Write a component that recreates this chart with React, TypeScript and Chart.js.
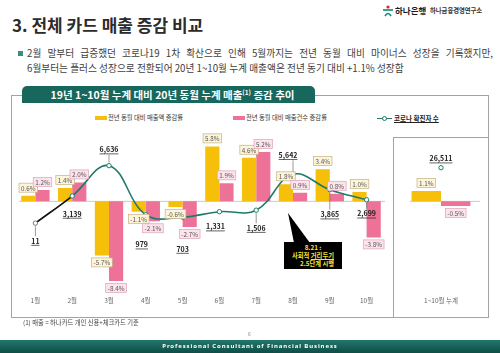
import React, { useEffect, useRef } from 'react';
import { Chart, registerables } from 'chart.js';

Chart.register(...registerables);

// ---------------- DATA ----------------
const months = ['1월', '2월', '3월', '4월', '5월', '6월', '7월', '8월', '9월', '10월'];
const salesGrowth = [0.6, 1.4, -5.7, -1.1, -0.6, 5.8, 4.6, 1.8, 3.4, 1.0];
const countGrowth = [1.2, 2.0, -8.4, -2.1, -2.7, 1.9, 5.2, 0.9, 0.8, -3.8];
const covidCases = [11, 3139, 6636, 979, 703, 1331, 1506, 5642, 3865, 2699];

const totalLabels = ['1~10월 누계'];
const totalSales = [1.1];
const totalCount = [-0.5];
const totalCovid = [26511];

// ---------------- STYLE ----------------
const FONT = '"Noto Sans CJK KR", "Noto Sans", sans-serif';
const YELLOW = '#F5BF0A';
const PINK = '#EE7198';
const TEAL = '#1F7A6A';
const HEADER = '#17675C';

// label placement (style only)
const covidLabelDy = [18, 18, -16, 30, 32, 15, 18, -19, 25, 14];
const covidLabelDx = [0, 0, 0, -4, 0, -4, 0, -5, 0, 0];
const covidLeader = [true, false, true, false, false, false, true, true, true, true];
const totalCovidDy = [-9];
const totalCovidDx = [0];
const totalCovidLeader = [false];

const boxStyles = [
  { fill: '#FDF4DA', stroke: '#C4B283', color: '#555' },
  { fill: '#FCE3EC', stroke: '#DDA3B7', color: '#555' },
];

Chart.defaults.font.family = FONT;

function drawBox(ctx: CanvasRenderingContext2D, text: string, cx: number, cy: number, st: any) {
  ctx.save();
  ctx.font = `6.3px ${FONT}`;
  const w = ctx.measureText(text).width + 4;
  const h = 9;
  ctx.fillStyle = st.fill;
  ctx.fillRect(cx - w / 2, cy - h / 2, w, h);
  ctx.strokeStyle = st.stroke;
  ctx.lineWidth = 0.7;
  ctx.strokeRect(cx - w / 2, cy - h / 2, w, h);
  ctx.fillStyle = st.color;
  ctx.textAlign = 'center';
  ctx.textBaseline = 'middle';
  ctx.fillText(text, cx, cy + 0.5);
  ctx.restore();
}

function makePlugin(o: { dy: number[]; dx: number[]; leader: boolean[]; zl: number; zr: number }) {
  return {
    id: 'customLabels',
    beforeDatasetsDraw(chart: any) {
      const ctx = chart.ctx;
      const y0 = chart.scales.y.getPixelForValue(0);
      ctx.save();
      ctx.strokeStyle = '#BDBDBD';
      ctx.lineWidth = 0.8;
      ctx.beginPath();
      ctx.moveTo(chart.chartArea.left + o.zl, y0);
      ctx.lineTo(chart.chartArea.right - o.zr, y0);
      ctx.stroke();
      ctx.restore();
    },
    afterDatasetsDraw(chart: any) {
      const ctx = chart.ctx;
      // bar labels
      [1, 2].forEach((di, k) => {
        const meta = chart.getDatasetMeta(di);
        const vals = chart.data.datasets[di].data as number[];
        meta.data.forEach((el: any, i: number) => {
          const v = vals[i];
          const cy = v >= 0 ? el.y - 8 : el.y + 7;
          drawBox(ctx, v.toFixed(1) + '%', el.x, cy, boxStyles[k]);
        });
      });
      // covid labels
      const lm = chart.getDatasetMeta(0);
      const lv = chart.data.datasets[0].data as number[];
      lm.data.forEach((el: any, i: number) => {
        const text = lv[i].toLocaleString('en-US');
        const x = el.x + o.dx[i];
        const y = el.y + o.dy[i];
        ctx.save();
        if (o.leader[i]) {
          ctx.strokeStyle = '#555';
          ctx.lineWidth = 0.6;
          ctx.beginPath();
          const sgn = o.dy[i] > 0 ? 1 : -1;
          ctx.moveTo(el.x, el.y + sgn * 3);
          ctx.lineTo(el.x, y - sgn * 5);
          ctx.stroke();
        }
        ctx.font = `bold 7px ${FONT}`;
        ctx.fillStyle = '#222';
        ctx.textAlign = 'center';
        ctx.textBaseline = 'middle';
        ctx.fillText(text, x, y);
        const w = ctx.measureText(text).width;
        ctx.strokeStyle = '#222';
        ctx.lineWidth = 0.7;
        ctx.beginPath();
        ctx.moveTo(x - w / 2, y + 4.2);
        ctx.lineTo(x + w / 2, y + 4.2);
        ctx.stroke();
        ctx.restore();
      });
    },
  };
}

function buildConfig(
  labels: string[],
  sales: number[],
  count: number[],
  covid: number[],
  catPct: number,
  y2min: number,
  y2max: number,
  pad: any,
  plugin: any
): any {
  return {
    type: 'bar',
    data: {
      labels,
      datasets: [
        {
          type: 'line',
          data: covid,
          yAxisID: 'y2',
          order: 0,
          borderColor: TEAL,
          borderWidth: 1.6,
          tension: 0.4,
          fill: false,
          pointRadius: 2.2,
          pointBackgroundColor: '#fff',
          pointBorderColor: covid.map((_, i) => (i === 0 && covid.length > 1 ? '#777' : TEAL)),
          pointBorderWidth: 1,
          segment: { borderColor: (c: any) => (c.p0DataIndex === 0 ? '#111' : TEAL) },
        },
        {
          data: sales,
          yAxisID: 'y',
          order: 1,
          backgroundColor: YELLOW,
          categoryPercentage: catPct,
          barPercentage: 1,
        },
        {
          data: count,
          yAxisID: 'y',
          order: 1,
          backgroundColor: PINK,
          categoryPercentage: catPct,
          barPercentage: 1,
        },
      ],
    },
    options: {
      animation: false,
      responsive: false,
      layout: { padding: pad },
      plugins: { legend: { display: false }, tooltip: { enabled: false } },
      scales: {
        x: {
          grid: { display: false, drawTicks: false },
          border: { display: false },
          ticks: { font: { size: 6.5, family: FONT }, color: '#666', padding: 10, autoSkip: false, maxRotation: 0 },
        },
        y: { display: false, min: -9, max: 7 },
        y2: { display: false, min: y2min, max: y2max, position: 'right' },
      },
    },
    plugins: [plugin],
  };
}

const abs = (s: React.CSSProperties): React.CSSProperties => ({ position: 'absolute', ...s });

export default function App() {
  const mainRef = useRef<HTMLCanvasElement>(null);
  const sideRef = useRef<HTMLCanvasElement>(null);

  useEffect(() => {
    const pad = { left: 4.45, right: 2.55, top: 10, bottom: 0.5 };
    const c1 = new Chart(
      mainRef.current as HTMLCanvasElement,
      buildConfig(months, salesGrowth, countGrowth, covidCases, 0.77, -7314, 10171, pad,
        makePlugin({ dy: covidLabelDy, dx: covidLabelDx, leader: covidLeader, zl: 2, zr: 0 }))
    );
    const c2 = new Chart(
      sideRef.current as HTMLCanvasElement,
      buildConfig(totalLabels, totalSales, totalCount, totalCovid, 0.7, 0, 33800,
        { left: 0, right: 0, top: 10, bottom: 0.5 },
        makePlugin({ dy: totalCovidDy, dx: totalCovidDx, leader: totalCovidLeader, zl: 11, zr: 3 }))
    );
    return () => {
      c1.destroy();
      c2.destroy();
    };
  }, []);

  return (
    <div
      style={{
        position: 'fixed',
        left: 0,
        top: 0,
        width: 500,
        height: 353,
        background: '#fff',
        overflow: 'hidden',
        fontFamily: FONT,
      }}
    >
      {/* logo */}
      <svg style={abs({ left: 382, top: 5, width: 12, height: 12 })} viewBox="0 0 12 12">
        <circle cx="6" cy="2" r="1.6" fill="#D9272E" />
        <rect x="1" y="4.2" width="10" height="1.6" fill="#0E8A6E" />
        <path d="M3 11 Q6 6 9 11" stroke="#0E8A6E" strokeWidth="1.6" fill="none" />
      </svg>
      <div style={abs({ left: 395, top: 5, fontSize: 8.5, lineHeight: '10px', fontWeight: 700, color: '#1d1d1d', whiteSpace: 'nowrap' })}>
        하나은행
      </div>
      <div style={abs({ left: 430, top: 7, fontSize: 6.3, lineHeight: '8px', fontWeight: 700, color: '#333', whiteSpace: 'nowrap' })}>
        하나금융경영연구소
      </div>

      {/* title */}
      <div style={abs({ left: 12, top: 16, fontSize: 17, lineHeight: '17px', fontWeight: 700, color: '#2b2b2b', whiteSpace: 'nowrap' })}>
        3. 전체 카드 매출 증감 비교
      </div>

      {/* bullet */}
      <div style={abs({ left: 18, top: 51, width: 5, height: 5, background: '#3C8F77' })} />
      <div
        style={abs({
          left: 27,
          top: 46,
          width: 466,
          fontSize: 9.7,
          lineHeight: '15px',
          color: '#404040',
          whiteSpace: 'nowrap',
          textAlign: 'justify',
          textAlignLast: 'justify',
        })}
      >
        2월 말부터 급증했던 코로나19 1차 확산으로 인해 5월까지는 전년 동월 대비 마이너스 성장을 기록했지만,
      </div>
      <div style={abs({ left: 27, top: 61, fontSize: 9.7, lineHeight: '15px', color: '#404040', whiteSpace: 'nowrap' })}>
        6월부터는 플러스 성장으로 전환되어 20년 1~10월 누계 매출액은 전년 동기 대비 +1.1% 성장함
      </div>

      {/* chart frame */}
      <div style={abs({ left: 11, top: 95, width: 476, height: 221, border: '1px solid #A3A3A3' })} />
      <div style={abs({ left: 393, top: 137, width: 95, height: 180, borderLeft: '1px solid #A3A3A3', borderTop: '1px solid #A3A3A3' })} />

      {/* header tab */}
      <div
        style={abs({
          left: 22,
          top: 86,
          width: 293,
          height: 17,
          background: HEADER,
          borderRadius: '5px 5px 0 0',
          color: '#fff',
          fontWeight: 700,
          fontSize: 10.5,
          lineHeight: '17px',
          textAlign: 'center',
          whiteSpace: 'nowrap',
          paddingLeft: 8,
          boxSizing: 'border-box',
        })}
      >
        19년 1~10월 누계 대비 20년 동월 누계 매출<sup style={{ fontSize: 6.5, lineHeight: 0 }}>(1)</sup> 증감 추이
      </div>

      {/* legend */}
      <div style={abs({ left: 95, top: 116, width: 12, height: 4, background: YELLOW })} />
      <div style={abs({ left: 108, top: 114, fontSize: 6.3, lineHeight: '8px', color: '#333', whiteSpace: 'nowrap' })}>
        전년 동월 대비 매출액 증감률
      </div>
      <div style={abs({ left: 233, top: 116, width: 12, height: 4, background: PINK })} />
      <div style={abs({ left: 246, top: 114, fontSize: 6.3, lineHeight: '8px', color: '#333', whiteSpace: 'nowrap' })}>
        전년 동월 대비 매출건수 증감률
      </div>
      <div style={abs({ left: 377, top: 117.5, width: 15, height: 1.6, background: TEAL })} />
      <div style={abs({ left: 382, top: 116, width: 3, height: 3, borderRadius: '50%', background: '#fff', border: `1px solid ${TEAL}` })} />
      <div style={abs({ left: 394, top: 114, fontSize: 6.5, lineHeight: '8px', color: '#222', fontWeight: 700, whiteSpace: 'nowrap', textDecoration: 'underline' })}>
        코로나 확진자 수
      </div>

      {/* charts */}
      <canvas ref={mainRef} width={378} height={190} style={abs({ left: 12, top: 125 })} />
      <canvas ref={sideRef} width={94} height={190} style={abs({ left: 394, top: 125 })} />

      {/* callout */}
      <svg style={abs({ left: 0, top: 0, width: 500, height: 353, pointerEvents: 'none' })} width={500} height={353}>
        <polygon points="288,213 294,243 310,243" fill="#000" />
      </svg>
      <div
        style={abs({
          left: 284,
          top: 242,
          width: 58,
          height: 27,
          background: '#000',
          color: '#F3E03B',
          fontSize: 6.3,
          fontWeight: 700,
          lineHeight: '8px',
          textAlign: 'center',
          paddingTop: 2,
          boxSizing: 'border-box',
          whiteSpace: 'nowrap',
        })}
      >
        <div>8.21 :</div>
        <div>
          사회적 <span style={{ textDecoration: 'underline' }}>거리두기</span>
        </div>
        <div style={{ paddingLeft: 8 }}>2.5단계 시행</div>
      </div>

      {/* footnote */}
      <div style={abs({ left: 23, top: 319, fontSize: 6.3, lineHeight: '8px', color: '#444', whiteSpace: 'nowrap' })}>
        (1) 매출 = 하나카드 개인 신용+체크카드 기준
      </div>
      <div style={abs({ left: 248, top: 331, fontSize: 5, lineHeight: '6px', color: '#888' })}>6</div>

      {/* bottom bar */}
      <div
        style={abs({
          left: 0,
          top: 340,
          width: 500,
          height: 13,
          background: 'linear-gradient(to bottom, #23776C, #0E4D45)',
          color: '#fff',
          fontSize: 6,
          fontWeight: 700,
          lineHeight: '13px',
          textAlign: 'center',
          letterSpacing: 0.9,
          whiteSpace: 'nowrap',
          fontFamily: '"Noto Sans", sans-serif',
        })}
      >
        Professional Consultant of Financial Business
      </div>
    </div>
  );
}
